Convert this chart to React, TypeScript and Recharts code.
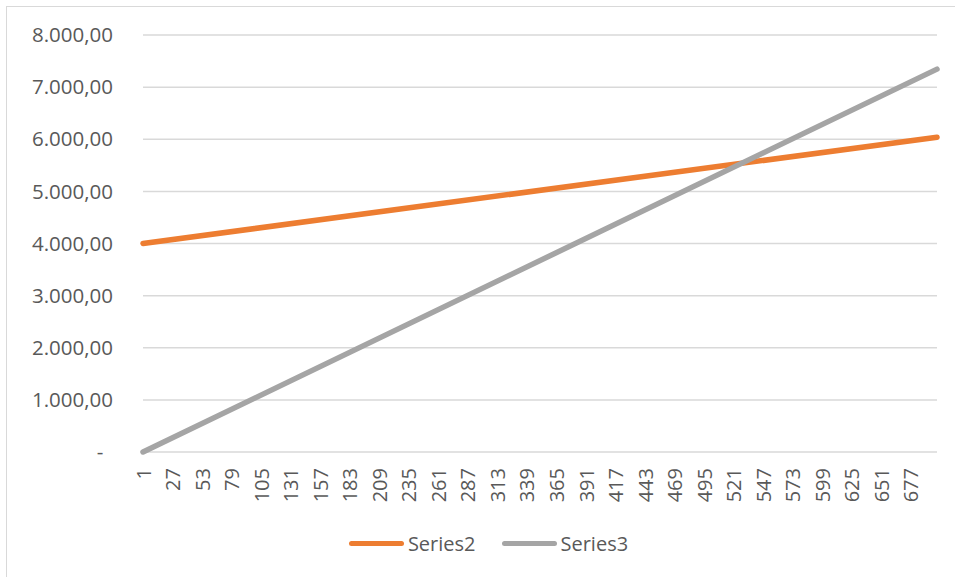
import React from 'react';
import { LineChart, Line, XAxis, YAxis, CartesianGrid, Legend } from 'recharts';

// First and last category on the x axis, with the value of each series there
const categoryPoints = [1, 700];
const series2Values = [4000, 6040];
const series3Values = [0, 7345];

// Category labels shown under the axis (every 26th)
const xTickLabels = [
  1, 27, 53, 79, 105, 131, 157, 183, 209, 235, 261, 287, 313, 339, 365, 391,
  417, 443, 469, 495, 521, 547, 573, 599, 625, 651, 677,
];
const yTickValues = [0, 1000, 2000, 3000, 4000, 5000, 6000, 7000, 8000];

const data = categoryPoints.map((category, i) => ({
  category,
  Series2: series2Values[i],
  Series3: series3Values[i],
}));

const FONT = '"Open Sans", "Noto Sans", sans-serif';
const TEXT_COLOR = '#595959';

// 8000 -> "8.000,00", 0 -> "-"
const formatAmount = (v: number) =>
  v.toLocaleString('de-DE', { minimumFractionDigits: 2, maximumFractionDigits: 2 });

const YTick = ({ x, y, payload }: any) => {
  const zero = payload.value === 0;
  return (
    <text
      x={zero ? x - 35 : x - 22}
      y={y}
      dy="0.35em"
      textAnchor={zero ? 'middle' : 'end'}
      fill={TEXT_COLOR}
      fontSize={20.5}
      fontFamily={FONT}
    >
      {zero ? '-' : formatAmount(payload.value)}
    </text>
  );
};

const XTick = ({ x, y, payload }: any) => {
  const ty = y + 8;
  return (
    <text
      x={x}
      y={ty}
      transform={`rotate(-90, ${x}, ${ty})`}
      textAnchor="end"
      dominantBaseline="central"
      fill={TEXT_COLOR}
      fontSize={20}
      fontFamily={FONT}
    >
      {payload.value}
    </text>
  );
};

const LegendContent = ({ payload }: any) => (
  <div style={{ display: 'flex', justifyContent: 'center', alignItems: 'center', height: 30, paddingLeft: 40 }}>
    {(payload || []).map((entry: any, i: number) => (
      <div
        key={entry.value}
        style={{ display: 'flex', alignItems: 'center', marginRight: i < payload.length - 1 ? 26 : 0 }}
      >
        <div style={{ width: 55, height: 5, borderRadius: 3, background: entry.color, marginRight: 4 }} />
        <span style={{ fontFamily: FONT, fontSize: 20, color: TEXT_COLOR }}>{entry.value}</span>
      </div>
    ))}
  </div>
);

export default function App() {
  return (
    <div style={{ position: 'absolute', left: 0, top: 0, width: 955, height: 577, overflow: 'hidden', background: '#fff' }}>
      <div
        style={{
          position: 'absolute',
          left: 6,
          top: 6,
          width: 1000,
          height: 1000,
          borderLeft: '1.5px solid #d9d9d9',
          borderTop: '1.5px solid #d9d9d9',
        }}
      />
      <LineChart
        width={955}
        height={577}
        data={data}
        margin={{ top: 35, right: 18, left: 0, bottom: 19 }}
        style={{ position: 'absolute', left: 0, top: 0 }}
      >
        <CartesianGrid vertical={false} stroke="#d9d9d9" strokeWidth={1.5} />
        <XAxis
          type="number"
          dataKey="category"
          domain={[1, 700]}
          ticks={xTickLabels}
          interval={0}
          height={76}
          axisLine={false}
          tickLine={false}
          tick={<XTick />}
        />
        <YAxis
          domain={[0, 8000]}
          ticks={yTickValues}
          width={143}
          axisLine={false}
          tickLine={false}
          tick={<YTick />}
        />
        <Legend verticalAlign="bottom" height={30} content={<LegendContent />} />
        <Line
          type="linear"
          dataKey="Series2"
          stroke="#ED7D31"
          strokeWidth={5.5}
          strokeLinecap="round"
          dot={false}
          isAnimationActive={false}
        />
        <Line
          type="linear"
          dataKey="Series3"
          stroke="#A5A5A5"
          strokeWidth={5.5}
          strokeLinecap="round"
          dot={false}
          isAnimationActive={false}
        />
      </LineChart>
    </div>
  );
}
